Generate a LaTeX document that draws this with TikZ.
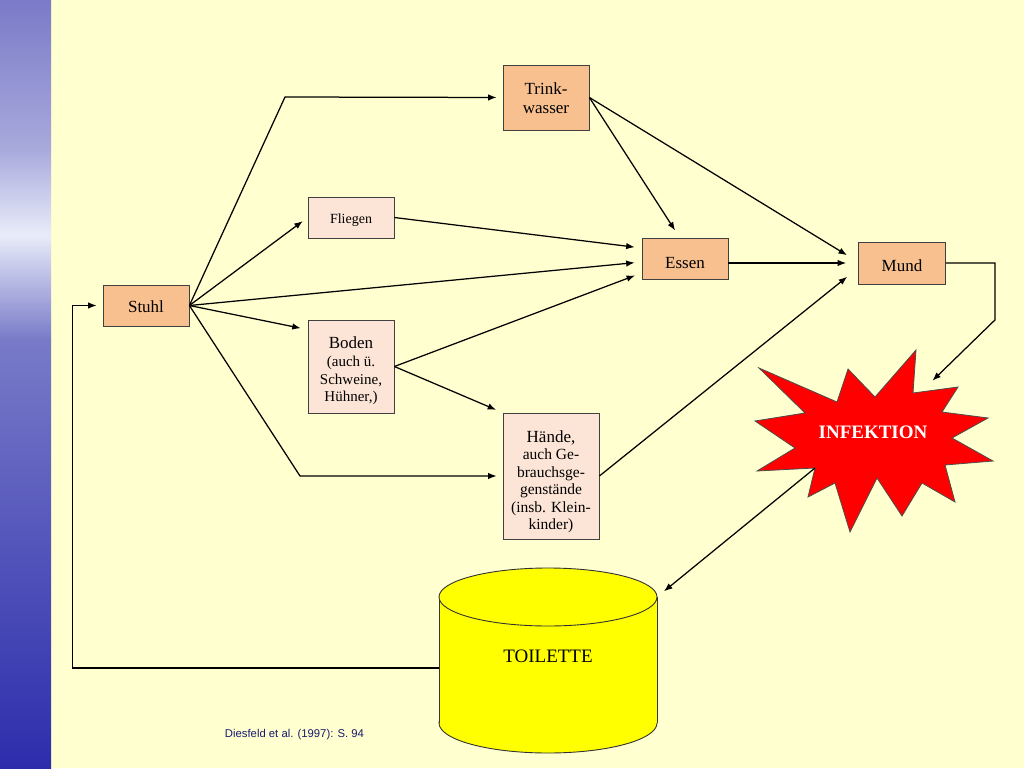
\documentclass[tikz,border=0pt]{standalone}
\usepackage{fontspec}
\setmainfont{Liberation Serif}
\newfontfamily\citefont{Liberation Sans}
\usetikzlibrary{arrows.meta}
\definecolor{bgyel}{RGB}{255,255,208}
\definecolor{peach}{RGB}{248,191,143}
\definecolor{pinkbox}{RGB}{252,229,214}
\definecolor{citeblue}{RGB}{25,25,110}
\definecolor{stA}{RGB}{122,122,200}
\definecolor{stB}{RGB}{168,170,220}
\definecolor{stC}{RGB}{232,236,249}
\definecolor{stD}{RGB}{120,122,200}
\definecolor{stE}{RGB}{45,45,172}
\definecolor{cylyel}{RGB}{255,255,0}
\definecolor{starred}{RGB}{255,0,0}
\begin{document}
\begin{tikzpicture}[x=1pt,y=-1pt,
  box/.style={draw=black!75, line width=0.8pt, inner sep=0pt, align=center,
    text depth=0pt, font=\fontsize{17}{19}\selectfont},
  dark/.style={box, fill=peach},
  light/.style={box, fill=pinkbox},
  conn/.style={line width=1.25pt, -{Latex[length=8.5pt,width=6.5pt]}},
  cyl/.style={fill=cylyel, draw=black!80, line width=0.9pt}
]
\useasboundingbox (0,0) rectangle (1024,768);
\fill[bgyel] (0,0) rectangle (1024,768);
% left stripe
\shade[top color=stA, bottom color=stB] (0,0) rectangle (51,150);
\shade[top color=stB, bottom color=stC] (0,150) rectangle (51,235);
\shade[top color=stC, bottom color=stD] (0,235) rectangle (51,340);
\shade[top color=stD, bottom color=stE] (0,340) rectangle (51,768);

% boxes
\node[dark, minimum width=86pt, minimum height=41pt, text height=13.6pt] (stuhl) at (146,305.5) {Stuhl};
\node[dark, minimum width=86pt, minimum height=65pt, text height=32.6pt] (trink) at (546,97.5) {Trink-\\wasser};
\node[light, minimum width=86pt, minimum height=41pt, text height=12.5pt, font=\fontsize{14}{16}\selectfont] (fliegen) at (351,217.5) {Fliegen};
\node[dark, minimum width=86pt, minimum height=41pt, text height=19.3pt] (essen) at (685,259) {Essen};
\node[dark, minimum width=87pt, minimum height=42pt, text height=17.6pt] (mund) at (902,263) {Mund};
\node[light, minimum width=86pt, minimum height=93pt, text height=70.4pt, font=\fontsize{15}{17.7}\selectfont] (boden) at (351,366.5)
  {{\fontsize{17}{17.7}\selectfont Boden}\\(auch ü.\\Schweine,\\Hühner,)};
\node[light, minimum width=96pt, minimum height=126pt, text height=107.7pt, font=\fontsize{15.5}{17.5}\selectfont] (haende) at (551,476)
  {{\fontsize{17}{17.5}\selectfont Hände,}\\auch Ge-\\brauchsge-\\genstände\\(insb. Klein-\\kinder)};

% star
\filldraw[fill=starred, draw=black!70, line width=0.8pt]
  (759,368) -- (837,402) -- (848,369) -- (875,397) -- (916,350) -- (913,393)
  -- (958,387) -- (942,412) -- (988,418) -- (952,438) -- (993,461) -- (945,465)
  -- (955,502) -- (922,483) -- (902,516) -- (877,478) -- (850,532) -- (835,483)
  -- (808,497) -- (815,468) -- (757,471) -- (795,448) -- (755,421) -- (805,413) -- cycle;
\node[text=white, font=\bfseries\fontsize{19}{21}\selectfont] (infektion) at (873,432) {INFEKTION};
\coordinate (starOut) at (815,468);
\coordinate (starIn) at (926,387);

% cylinder
\filldraw[cyl] (548,723) ellipse [x radius=109, y radius=30];
\fill[cylyel] (439,597) rectangle (657,723);
\draw[black!80, line width=0.9pt] (439,597) -- (439,723) (657,597) -- (657,723);
\filldraw[cyl] (548,597) ellipse [x radius=109, y radius=29];
\node[font=\fontsize{19}{21}\selectfont] (toilette) at (548,656) {TOILETTE};
\coordinate (toiL) at (439,668);
\coordinate (toiTR) at (657,597);

% citation
\node[font=\citefont\fontsize{11.3}{13}\selectfont, text=citeblue] (cite) at (294.5,735) {Diesfeld et al. (1997): S. 94};

% connectors
\draw[conn, shorten >=6pt] (stuhl.east) -- (285,97) -- (trink.west);
\draw[conn, shorten >=6pt] (stuhl.east) -- (fliegen.west);
\draw[conn, shorten >=7pt] (stuhl.east) -- ([yshift=-3pt]essen.west);
\draw[conn, shorten >=7pt] (stuhl.east) -- ([yshift=-10pt]boden.north west);
\draw[conn, shorten >=6pt] (stuhl.east) -- (300,476) -- (haende.west);
\draw[conn, shorten >=7pt] (fliegen.east) -- ([yshift=11pt]essen.west);
\draw[conn, shorten >=7pt] (boden.east) -- ([yshift=-14pt]essen.west);
\draw[conn, shorten >=7pt] (boden.east) -- (haende.north west);
\draw[conn, shorten >=9pt] (trink.east) -- ([xshift=-5pt]essen.north);
\draw[conn, shorten >=13pt] (trink.east) -- ([yshift=1pt]mund.west);
\draw[conn, shorten >=12pt] (essen.east |- mund.west) -- (mund.west);
\draw[conn, shorten >=14pt] (haende.east) -- ([yshift=-5pt]mund.west);
\draw[conn, shorten >=9pt] (mund.east) -| ([xshift=49pt,yshift=-57pt]mund.east) -- (starIn);
\draw[conn, shorten >=9pt] (starOut) -- (toiTR);
\draw[conn, shorten >=6pt] (toiL) -| ([xshift=-30pt]stuhl.west) -- (stuhl.west);
\end{tikzpicture}
\end{document}
